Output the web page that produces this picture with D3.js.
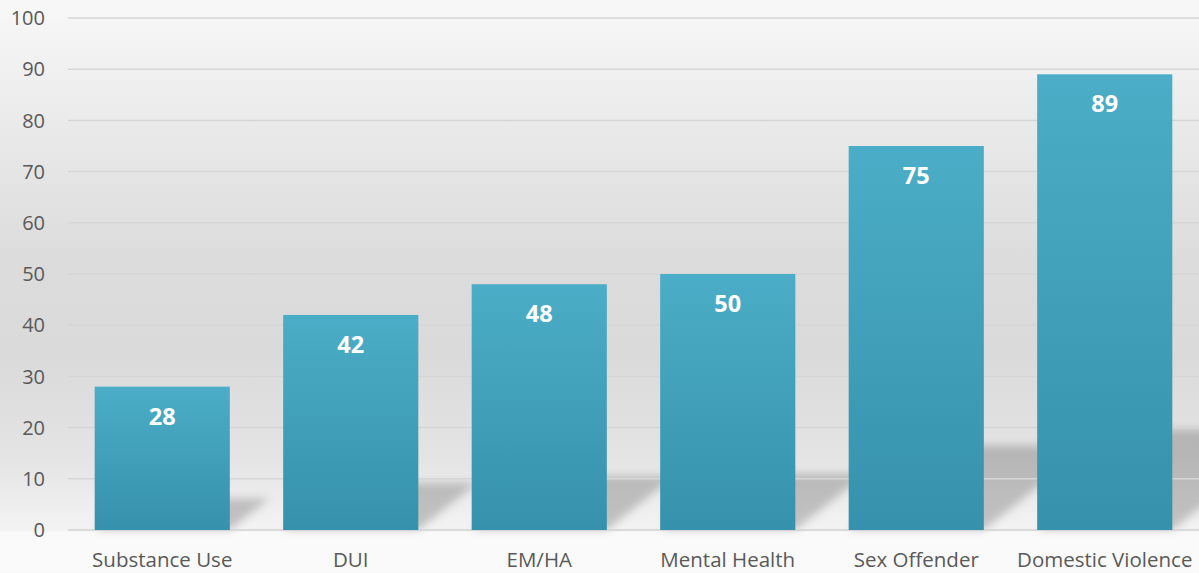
<!DOCTYPE html>
<html>
<head>
<meta charset="utf-8">
<script src="https://cdn.jsdelivr.net/npm/d3@7"></script>
<style>
  html, body { margin: 0; padding: 0; background: #fafafa; }
  svg { display: block; font-family: "Open Sans", sans-serif; }
</style>
</head>
<body>
<svg id="chart" width="1199" height="573"></svg>
<script>
var categories = ["Substance Use", "DUI", "EM/HA", "Mental Health", "Sex Offender", "Domestic Violence"];
var values = [28, 42, 48, 50, 75, 89];
var yTicks = [0, 10, 20, 30, 40, 50, 60, 70, 80, 90, 100];

var svg = d3.select("#chart"),
    width = +svg.attr("width"),
    height = +svg.attr("height");

var x = d3.scaleBand()
    .domain(categories)
    .range([68, width])
    .paddingInner(0.283)
    .paddingOuter(0.1415);

var y = d3.scaleLinear()
    .domain([0, 100])
    .range([530, 18]);

var defs = svg.append("defs");

// page background, light at top, grey in the middle, light again at the floor
var bg = defs.append("linearGradient")
    .attr("id", "bg").attr("x1", 0).attr("y1", 0).attr("x2", 0).attr("y2", 1);
[[0, "#f8f8f8"], [0.2, "#ebebeb"], [0.45, "#dcdcdc"], [0.62, "#dadada"],
 [0.8, "#e4e4e4"], [0.925, "#f3f3f3"], [0.93, "#fafafa"], [1, "#fafafa"]]
  .forEach(function(s) {
    bg.append("stop").attr("offset", s[0]).attr("stop-color", s[1]);
  });

var barGrad = defs.append("linearGradient")
    .attr("id", "bar").attr("x1", 0).attr("y1", 0).attr("x2", 0).attr("y2", 1);
barGrad.append("stop").attr("offset", 0).attr("stop-color", "#4badc7");
barGrad.append("stop").attr("offset", 1).attr("stop-color", "#3691ac");

defs.append("filter")
    .attr("id", "blur").attr("x", "-30%").attr("y", "-30%")
    .attr("width", "160%").attr("height", "160%")
  .append("feGaussianBlur").attr("stdDeviation", 4);

svg.append("rect")
    .attr("width", width).attr("height", height)
    .attr("fill", "url(#bg)");

// shadows cast by the bars on the floor, up and to the right
svg.append("g")
    .attr("filter", "url(#blur)")
  .selectAll("path")
  .data(values)
  .enter().append("path")
    .attr("fill", "#000")
    .attr("fill-opacity", 0.2)
    .attr("d", function(d, i) {
      var x0 = x(categories[i]), x1 = x0 + x.bandwidth();
      var h = (y(0) - y(d)) * 0.22, dx = h * 1.25;
      return "M" + x0 + "," + y(0) + "L" + x1 + "," + y(0) +
             "L" + (x1 + dx) + "," + (y(0) - h) + "L" + (x0 + dx) + "," + (y(0) - h) + "Z";
    });

// grid lines
svg.append("g")
  .selectAll("line")
  .data(yTicks)
  .enter().append("line")
    .attr("x1", 68).attr("x2", width)
    .attr("y1", function(d) { return y(d); })
    .attr("y2", function(d) { return y(d); })
    .attr("stroke", function(d) { return d === 0 ? "#d2d2d2" : "#d6d6d6"; })
    .attr("stroke-width", 1.5);

// y tick labels
svg.append("g")
  .selectAll("text")
  .data(yTicks)
  .enter().append("text")
    .attr("x", 45)
    .attr("y", function(d) { return y(d); })
    .attr("dy", "0.36em")
    .attr("text-anchor", "end")
    .attr("font-size", 20)
    .attr("fill", "#595959")
    .text(function(d) { return d; });

// bars
svg.append("g")
  .selectAll("rect")
  .data(values)
  .enter().append("rect")
    .attr("x", function(d, i) { return x(categories[i]); })
    .attr("y", function(d) { return y(d); })
    .attr("width", x.bandwidth())
    .attr("height", function(d) { return y(0) - y(d); })
    .attr("fill", "url(#bar)");

// value labels
svg.append("g")
  .selectAll("text")
  .data(values)
  .enter().append("text")
    .attr("x", function(d, i) { return x(categories[i]) + x.bandwidth() / 2; })
    .attr("y", function(d) { return y(d) + 38; })
    .attr("text-anchor", "middle")
    .attr("font-size", 23.5)
    .attr("font-weight", "bold")
    .attr("fill", "#ffffff")
    .text(function(d) { return d; });

// category labels
svg.append("g")
  .selectAll("text")
  .data(categories)
  .enter().append("text")
    .attr("x", function(d) { return x(d) + x.bandwidth() / 2; })
    .attr("y", 567)
    .attr("text-anchor", "middle")
    .attr("font-size", 20.5)
    .attr("fill", "#595959")
    .text(function(d) { return d; });
</script>
</body>
</html>
